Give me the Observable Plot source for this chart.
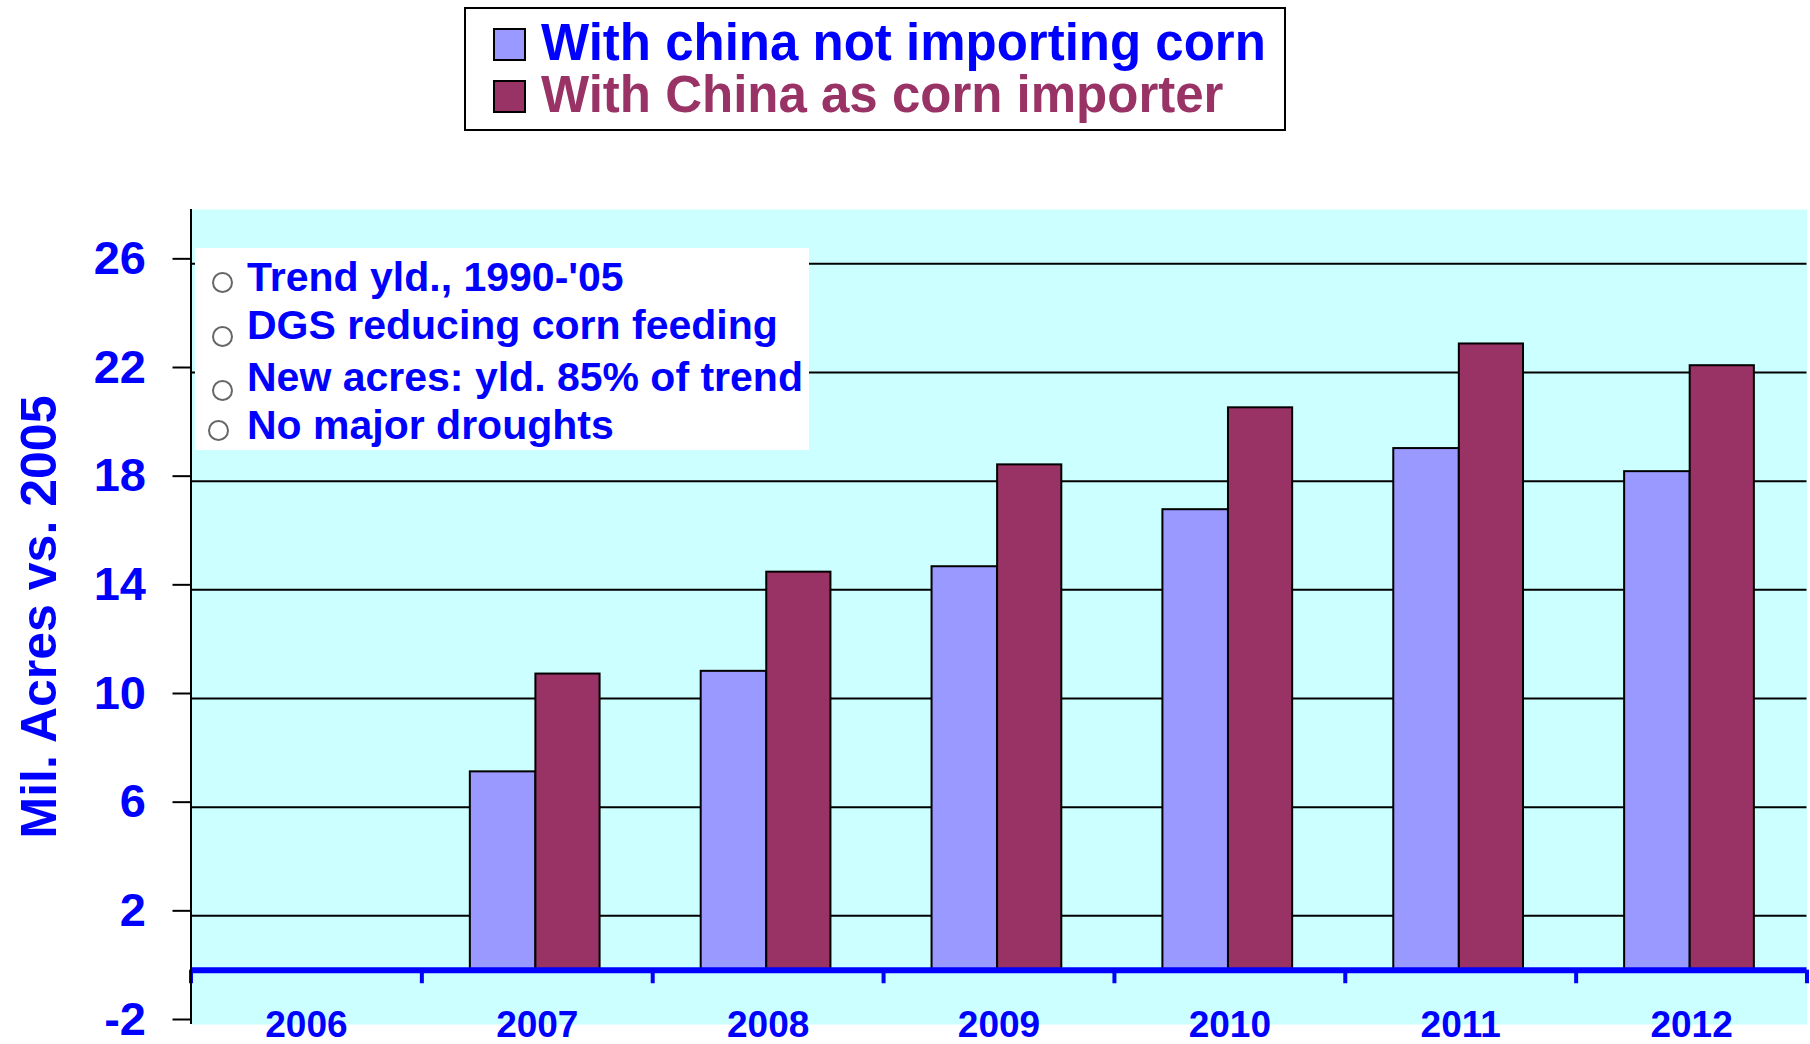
<!DOCTYPE html>
<html>
<head>
<meta charset="utf-8">
<script src="https://cdn.jsdelivr.net/npm/d3@7"></script>
<script src="https://cdn.jsdelivr.net/npm/@observablehq/plot@0.6"></script>
<style>
  html, body { margin: 0; padding: 0; background: #ffffff; }
  body { font-family: "Liberation Sans", Arial, sans-serif; }
  #page { position: relative; width: 1810px; height: 1044px; overflow: hidden; }
  #header { position: relative; width: 1810px; height: 140px; }
  .legend-box { position: absolute; left: 464px; top: 7px; width: 822px; height: 124px;
    box-sizing: border-box; border: 2px solid #000; background: #fff; }
  .swatch { position: absolute; left: 493px; width: 33px; height: 33px; box-sizing: border-box;
    border: 2px solid #000; }
  .legend-label { position: absolute; left: 541px; font-size: 51px; line-height: 51px;
    font-weight: bold; white-space: nowrap; }
  .notes-box { position: absolute; left: 195px; top: 248px; width: 614px; height: 202px; background: #fff; }
  .note { position: absolute; left: 247px; font-size: 41px; line-height: 41px; font-weight: bold;
    color: #0000FF; white-space: nowrap; }
  .bullet { position: absolute; width: 21px; height: 21px; box-sizing: border-box;
    border: 2px solid #666; border-radius: 50%; background: #fff; }
  #chart { display: block; }
</style>
</head>
<body>
<div id="page">
  <div id="header"></div>
  <div id="chart"></div>
</div>
<script>
// ---- data ----
const years = [2006, 2007, 2008, 2009, 2010, 2011, 2012];
const notImporting = [null, 7.3, 11.0, 14.85, 16.95, 19.2, 18.35];
const asImporter = [null, 10.9, 14.65, 18.6, 20.7, 23.05, 22.25];
const seriesNames = ["With china not importing corn", "With China as corn importer"];
const seriesColors = ["#9999FF", "#993366"];
const yTicks = [-2, 2, 6, 10, 14, 18, 22, 26];
const yTitle = "Mil. Acres vs. 2005";
const notes = ["Trend yld., 1990-'05", "DGS reducing corn feeding", "New acres: yld. 85% of trend", "No major droughts"];

// bar placement within each year's band (in year units)
const barSpans = [[-0.29, -0.006], [-0.006, 0.272]];

const rowsA = years.map((year, i) => ({year, value: notImporting[i]})).filter(d => d.value != null);
const rowsB = years.map((year, i) => ({year, value: asImporter[i]})).filter(d => d.value != null);
const boundaries = years.map(y => y - 0.5).concat([years[years.length - 1] + 0.5]);

// ---- legend (above the chart) ----
const header = document.getElementById("header");
const box = document.createElement("div");
box.className = "legend-box";
header.appendChild(box);
const legendTextColors = ["#0000FF", "#993366"];
const swatchTops = [28, 80];
const labelTops = [16.8, 68.8];
seriesNames.forEach((name, i) => {
  const sw = document.createElement("div");
  sw.className = "swatch";
  sw.style.top = swatchTops[i] + "px";
  sw.style.background = seriesColors[i];
  header.appendChild(sw);
  const lb = document.createElement("div");
  lb.className = "legend-label";
  lb.style.top = labelTops[i] + "px";
  lb.style.color = legendTextColors[i];
  lb.textContent = name;
  header.appendChild(lb);
});

// ---- chart ----
const chart = Plot.plot({
  width: 1810,
  height: 904,
  marginLeft: 190.5,
  marginRight: 3.5,
  marginTop: 69,
  marginBottom: 20,
  style: {fontFamily: "'Liberation Sans', Arial, sans-serif", background: "transparent", overflow: "visible"},
  x: {type: "linear", domain: [boundaries[0], boundaries[boundaries.length - 1]], axis: null},
  y: {domain: [-2, 28], axis: null},
  marks: [
    Plot.frame({fill: "#CCFFFF", stroke: "none"}),
    Plot.ruleY(yTicks.filter(t => t > 0), {stroke: "#000", strokeWidth: 2}),
    Plot.rectY(rowsA, {x1: d => d.year + barSpans[0][0], x2: d => d.year + barSpans[0][1], y1: 0, y2: "value",
      fill: seriesColors[0], stroke: "#000", strokeWidth: 2}),
    Plot.rectY(rowsB, {x1: d => d.year + barSpans[1][0], x2: d => d.year + barSpans[1][1], y1: 0, y2: "value",
      fill: seriesColors[1], stroke: "#000", strokeWidth: 2}),
    Plot.ruleY([0], {stroke: "#0000FF", strokeWidth: 6}),
    Plot.ruleX(boundaries, {x: d => d, y1: 0, y2: -0.5, stroke: "#0000FF", strokeWidth: 4}),
    Plot.ruleX([boundaries[0]], {stroke: "#000", strokeWidth: 2}),
    Plot.axisY({ticks: yTicks, tickSize: 18, tickPadding: 27, tickFormat: d => String(d), dy: -5,
      fontSize: 47, fontWeight: "bold", fill: "#0000FF", stroke: "#000", strokeWidth: 2, label: null}),
    Plot.text(years, {x: d => d, text: d => String(d), frameAnchor: "bottom", lineAnchor: "bottom", dy: 12,
      fontSize: 37, fontWeight: "bold", fill: "#0000FF"}),
    Plot.text([yTitle], {text: d => d, frameAnchor: "left", textAnchor: "middle", rotate: -90, dx: -135.5,
      lineAnchor: "bottom", fontSize: 50, fontWeight: "bold", fill: "#0000FF"})
  ]
});
document.getElementById("chart").appendChild(chart);

// ---- notes box over the plot ----
const page = document.getElementById("page");
const nb = document.createElement("div");
nb.className = "notes-box";
page.appendChild(nb);
const noteTops = [257.0, 305.3, 357.0, 405.3];
const bulletPos = [[211.8, 271.8], [212.2, 326.2], [212.0, 379.5], [208.3, 420.3]];
notes.forEach((t, i) => {
  const b = document.createElement("div");
  b.className = "bullet";
  b.style.left = bulletPos[i][0] + "px";
  b.style.top = bulletPos[i][1] + "px";
  page.appendChild(b);
  const n = document.createElement("div");
  n.className = "note";
  n.style.top = noteTops[i] + "px";
  n.textContent = t;
  page.appendChild(n);
});
</script>
</body>
</html>
